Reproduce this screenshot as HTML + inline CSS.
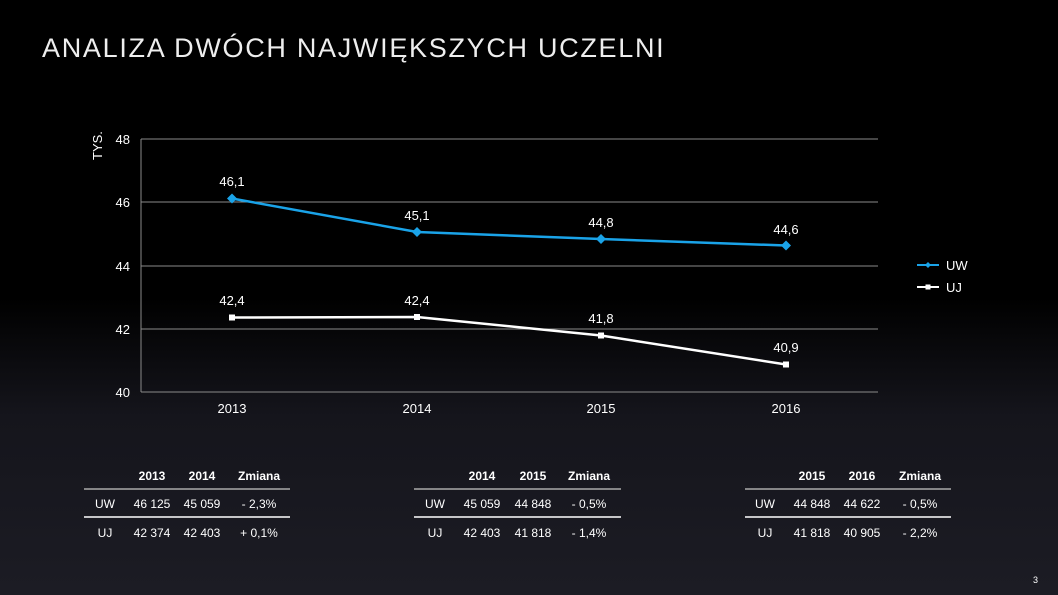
<!DOCTYPE html>
<html><head><meta charset="utf-8"><style>
body{margin:0;width:1058px;height:595px;overflow:hidden;background:#000;}
svg{display:block;font-family:"Liberation Sans",sans-serif;}
</style></head><body>
<svg width="1058" height="595" viewBox="0 0 1058 595">
<defs>
<linearGradient id="bg" x1="0" y1="0" x2="0" y2="1">
<stop offset="0" stop-color="#000"/>
<stop offset="0.5" stop-color="#000"/>
<stop offset="0.7" stop-color="#15151c"/>
<stop offset="1" stop-color="#1c1c24"/>
</linearGradient>
</defs>
<rect width="1058" height="595" fill="url(#bg)"/>
<text x="42" y="57" fill="#eee" font-size="27" letter-spacing="1.7" font-weight="300">ANALIZA DWÓCH NAJWIĘKSZYCH UCZELNI</text>
<g stroke="#8a8a8a" stroke-width="1">
<line x1="141" y1="139" x2="878" y2="139"/>
<line x1="141" y1="202" x2="878" y2="202"/>
<line x1="141" y1="266" x2="878" y2="266"/>
<line x1="141" y1="329" x2="878" y2="329"/>
<line x1="141" y1="392" x2="878" y2="392"/>
<line x1="141" y1="139" x2="141" y2="392"/>
</g>
<g fill="#fff" font-size="13" text-anchor="end">
<text x="130" y="144">48</text><text x="130" y="207">46</text><text x="130" y="271">44</text><text x="130" y="334">42</text><text x="130" y="397">40</text>
</g>
<text transform="translate(102,160) rotate(-90)" fill="#fff" font-size="13">TYS.</text>
<g fill="#fff" font-size="13" text-anchor="middle">
<text x="232" y="413">2013</text><text x="417" y="413">2014</text><text x="601" y="413">2015</text><text x="786" y="413">2016</text>
</g>
<polyline points="232,198.5 417,232 601,239 786,245.5" fill="none" stroke="#1aa3e8" stroke-width="2.5"/>
<g fill="#1aa3e8">
<path d="M232,193.5l5,5-5,5-5-5z"/><path d="M417,227l5,5-5,5-5-5z"/><path d="M601,234l5,5-5,5-5-5z"/><path d="M786,240.5l5,5-5,5-5-5z"/>
</g>
<polyline points="232,317.5 417,317 601,335.5 786,364.5" fill="none" stroke="#fff" stroke-width="2.5"/>
<g fill="#fff">
<rect x="229" y="314.5" width="6" height="6"/><rect x="414" y="314" width="6" height="6"/><rect x="598" y="332.5" width="6" height="6"/><rect x="783" y="361.5" width="6" height="6"/>
</g>
<g fill="#fff" font-size="13" text-anchor="middle">
<text x="232" y="186">46,1</text><text x="417" y="220">45,1</text><text x="601" y="227">44,8</text><text x="786" y="234">44,6</text>
<text x="232" y="305">42,4</text><text x="417" y="305">42,4</text><text x="601" y="323">41,8</text><text x="786" y="352">40,9</text>
</g>
<line x1="917" y1="265" x2="939" y2="265" stroke="#1aa3e8" stroke-width="2"/>
<path d="M928,262l3,3-3,3-3-3z" fill="#1aa3e8"/>
<text x="946" y="270" fill="#fff" font-size="13">UW</text>
<line x1="917" y1="287" x2="939" y2="287" stroke="#fff" stroke-width="2"/>
<rect x="925.5" y="284.5" width="5" height="5" fill="#fff"/>
<text x="946" y="292" fill="#fff" font-size="13">UJ</text>
<g font-size="12" fill="#fff" text-anchor="middle">
<g font-weight="bold"><text x="152" y="480">2013</text><text x="202" y="480">2014</text><text x="259" y="480">Zmiana</text></g>
<text x="105" y="508">UW</text><text x="152" y="508">46 125</text><text x="202" y="508">45 059</text><text x="259" y="508">- 2,3%</text>
<text x="105" y="537">UJ</text><text x="152" y="537">42 374</text><text x="202" y="537">42 403</text><text x="259" y="537">+ 0,1%</text>
<g font-weight="bold"><text x="482" y="480">2014</text><text x="533" y="480">2015</text><text x="589" y="480">Zmiana</text></g>
<text x="435" y="508">UW</text><text x="482" y="508">45 059</text><text x="533" y="508">44 848</text><text x="589" y="508">- 0,5%</text>
<text x="435" y="537">UJ</text><text x="482" y="537">42 403</text><text x="533" y="537">41 818</text><text x="589" y="537">- 1,4%</text>
<g font-weight="bold"><text x="812" y="480">2015</text><text x="862" y="480">2016</text><text x="920" y="480">Zmiana</text></g>
<text x="765" y="508">UW</text><text x="812" y="508">44 848</text><text x="862" y="508">44 622</text><text x="920" y="508">- 0,5%</text>
<text x="765" y="537">UJ</text><text x="812" y="537">41 818</text><text x="862" y="537">40 905</text><text x="920" y="537">- 2,2%</text>
</g>
<g stroke-width="1.5">
<line x1="84" y1="489" x2="290" y2="489" stroke="#aaa"/><line x1="84" y1="517" x2="290" y2="517" stroke="#fff"/>
<line x1="414" y1="489" x2="621" y2="489" stroke="#aaa"/><line x1="414" y1="517" x2="621" y2="517" stroke="#fff"/>
<line x1="745" y1="489" x2="951" y2="489" stroke="#aaa"/><line x1="745" y1="517" x2="951" y2="517" stroke="#fff"/>
</g>
<text x="1033" y="583" fill="#fff" font-size="9">3</text>
</svg>
</body></html>
